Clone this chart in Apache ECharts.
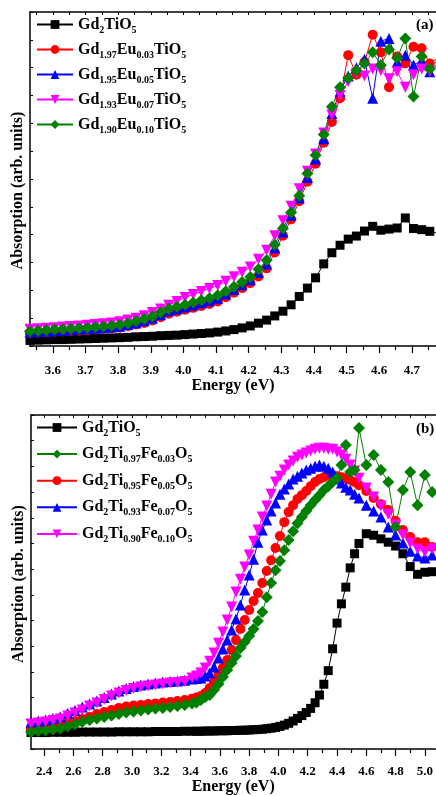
<!DOCTYPE html>
<html>
<head>
<meta charset="utf-8">
<script src="https://cdn.jsdelivr.net/npm/echarts@6/dist/echarts.min.js"></script>
<style>
html,body{margin:0;padding:0;background:#fff;}
#chart{width:436px;height:796px;}
</style>
</head>
<body>
<div id="chart"></div>
<script>
// ---------- Panel (a): Eu-doped Gd2TiO5 ----------
const energyA = [3.530,3.555,3.580,3.605,3.630,3.655,3.680,3.705,3.730,3.755,
  3.780,3.805,3.830,3.855,3.880,3.905,3.930,3.955,3.980,4.005,
  4.030,4.055,4.080,4.105,4.130,4.155,4.180,4.205,4.230,4.255,
  4.280,4.305,4.330,4.355,4.380,4.405,4.430,4.455,4.480,4.505,
  4.530,4.555,4.580,4.605,4.630,4.655,4.680,4.705,4.730,4.755,
  4.780];
const gd2tio5A = [0.20,0.21,0.22,0.23,0.23,0.24,0.25,0.26,0.27,0.28,
  0.29,0.30,0.31,0.33,0.34,0.35,0.37,0.38,0.39,0.41,
  0.43,0.45,0.47,0.50,0.54,0.59,0.65,0.72,0.82,0.93,
  1.08,1.25,1.48,1.78,2.08,2.45,2.95,3.35,3.62,3.84,
  3.95,4.13,4.30,4.16,4.20,4.24,4.60,4.22,4.18,4.12,
  4.05];
const eu003 = [0.46,0.48,0.49,0.51,0.52,0.54,0.55,0.57,0.59,0.61,
  0.63,0.66,0.71,0.77,0.83,0.92,1.03,1.16,1.23,1.30,
  1.37,1.44,1.51,1.60,1.75,1.91,2.08,2.26,2.50,2.79,
  3.36,3.96,4.55,5.20,5.90,6.55,7.30,8.05,8.90,10.45,
  9.75,10.20,11.18,10.55,9.30,10.40,10.15,10.75,10.70,10.15,
  10.35];
const eu005 = [0.50,0.52,0.53,0.55,0.56,0.58,0.60,0.62,0.64,0.66,
  0.68,0.71,0.77,0.83,0.91,1.00,1.12,1.26,1.33,1.40,
  1.47,1.55,1.63,1.72,1.87,2.03,2.20,2.38,2.64,2.95,
  3.52,4.10,4.70,5.32,6.05,6.72,7.45,8.35,9.15,9.70,
  10.00,10.30,8.90,10.95,11.05,10.20,10.45,10.10,10.25,9.85,
  10.15];
const eu007 = [0.60,0.62,0.64,0.66,0.68,0.70,0.72,0.75,0.77,0.80,
  0.83,0.87,0.93,1.00,1.09,1.20,1.33,1.46,1.60,1.74,
  1.85,1.96,2.07,2.17,2.33,2.49,2.65,2.84,3.12,3.44,
  3.96,4.50,5.02,5.65,6.28,6.90,7.65,8.30,9.00,9.50,
  9.80,9.70,9.95,9.90,9.60,9.85,9.30,9.75,9.95,9.85,
  10.05];
const eu010 = [0.53,0.55,0.57,0.59,0.60,0.62,0.64,0.66,0.68,0.70,
  0.73,0.76,0.82,0.89,0.97,1.06,1.20,1.34,1.41,1.48,
  1.56,1.64,1.72,1.82,1.97,2.13,2.30,2.48,2.76,3.08,
  3.64,4.22,4.80,5.40,6.20,6.85,7.60,8.60,9.30,9.62,
  9.90,10.15,10.55,10.10,10.65,10.35,11.05,8.96,10.40,9.95,
  10.30];
const ticksA = [3.6,3.7,3.8,3.9,4.0,4.1,4.2,4.3,4.4,4.5,4.6,4.7];
const minorTicksA = [3.55,3.65,3.75,3.85,3.95,4.05,4.15,4.25,4.35,4.45,4.55,4.65,4.75];

// ---------- Panel (b): Fe-doped Gd2TiO5 ----------
const energyB = [2.31,2.36,2.41,2.46,2.51,2.56,2.61,2.66,2.71,2.76,
  2.81,2.86,2.91,2.96,3.01,3.06,3.11,3.16,3.21,3.26,
  3.31,3.36,3.41,
  3.44,3.47,3.50,3.53,3.56,3.59,3.62,
  3.65,3.68,3.71,3.74,3.77,3.80,3.83,3.86,3.89,3.92,
  3.95,3.98,4.01,4.04,4.07,4.10,4.13,4.16,4.19,4.22,
  4.25,4.28,4.31,4.34,4.37,4.40,4.43,4.46,4.49,4.52,
  4.55,
  4.60,4.65,4.70,4.75,4.80,4.85,4.90,4.95,5.00,5.05];
const gd2tio5B = [0.64,0.64,0.64,0.65,0.65,0.65,0.65,0.66,0.66,0.66,
  0.66,0.66,0.67,0.67,0.67,0.67,0.67,0.68,0.68,0.68,
  0.68,0.69,0.69,
  0.69,0.69,0.70,0.70,0.70,0.71,0.71,
  0.71,0.72,0.72,0.73,0.73,0.74,0.75,0.76,0.77,0.79,
  0.81,0.84,0.88,0.93,1.00,1.09,1.19,1.30,1.42,1.58,
  1.80,2.10,2.52,3.05,3.90,4.90,5.65,6.30,7.05,7.60,
  8.00,
  8.38,8.32,8.18,8.05,7.90,7.60,7.10,6.80,6.88,6.90];
const fe003 = [0.66,0.70,0.72,0.76,0.80,0.88,0.95,1.05,1.13,1.19,
  1.25,1.30,1.36,1.42,1.46,1.50,1.54,1.58,1.60,1.63,
  1.67,1.71,1.77,
  1.81,1.91,2.02,2.10,2.30,2.53,2.80,
  3.07,3.35,3.62,3.93,4.16,4.40,4.67,4.98,5.33,5.91,
  6.46,6.96,7.32,7.74,8.13,8.48,8.79,9.03,9.26,9.49,
  9.69,9.88,10.08,10.23,10.39,10.54,11.05,11.83,10.78,10.86,
  12.49,
  11.05,11.44,10.86,10.39,8.64,10.08,10.78,9.49,10.66,10.00];
const fe005 = [0.78,0.82,0.86,0.89,0.93,1.01,1.09,1.17,1.25,1.36,
  1.44,1.52,1.60,1.65,1.69,1.71,1.75,1.77,1.81,1.83,
  1.87,1.91,1.96,
  2.00,2.06,2.18,2.37,2.61,2.88,3.15,
  3.46,3.85,4.24,4.67,5.02,5.41,5.76,6.07,6.46,6.93,
  7.35,7.82,8.29,8.83,9.22,9.49,9.73,9.88,10.04,10.23,
  10.39,10.51,10.58,10.66,10.66,10.62,10.58,10.54,10.47,10.39,
  10.27,
  10.04,9.77,9.53,9.30,8.87,8.52,8.25,8.05,8.05,7.86];
const fe007 = [1.05,1.09,1.13,1.19,1.26,1.38,1.50,1.63,1.75,1.87,
  2.00,2.14,2.26,2.35,2.43,2.49,2.53,2.57,2.61,2.63,
  2.65,2.68,2.72,
  2.74,2.76,2.84,2.96,3.19,3.54,3.89,
  4.24,4.63,5.06,5.60,6.19,6.77,7.39,8.05,8.52,8.91,
  9.26,9.57,9.92,10.12,10.31,10.51,10.62,10.74,10.86,10.93,
  11.01,11.05,11.01,10.93,10.78,10.51,10.35,10.19,10.08,9.92,
  9.77,
  9.49,9.26,9.03,8.64,8.33,8.02,7.70,7.51,7.43,7.55];
const fe010 = [0.97,1.01,1.05,1.11,1.17,1.28,1.40,1.52,1.67,1.79,
  1.93,2.06,2.18,2.28,2.35,2.41,2.45,2.49,2.53,2.57,
  2.59,2.63,2.76,
  2.84,2.96,3.15,3.42,3.74,4.12,4.55,
  5.02,5.53,6.11,6.61,7.08,7.55,8.09,8.52,9.03,9.46,
  9.92,10.39,10.62,10.86,11.05,11.21,11.36,11.44,11.52,11.60,
  11.67,11.71,11.71,11.67,11.67,11.56,11.44,11.28,11.05,10.82,
  10.54,
  10.16,9.81,9.46,9.14,8.72,8.33,8.02,7.78,7.67,7.78];
const ticksB = [2.4,2.6,2.8,3.0,3.2,3.4,3.6,3.8,4.0,4.2,4.4,4.6,4.8,5.0];
const minorTicksB = [2.5,2.7,2.9,3.1,3.3,3.5,3.7,3.9,4.1,4.3,4.5,4.7,4.9];
const topTicksB = [2.4,2.5,2.6,2.7,2.8,2.9,3.0,3.1,3.2,3.3,3.4,3.5,3.6,3.7,3.8,3.9,4.0,4.1,4.2,4.3,4.4,4.5,4.6,4.7,4.8,4.9,5.0];

const namesA = ['Gd2TiO5','Gd1.97Eu0.03TiO5','Gd1.95Eu0.05TiO5','Gd1.93Eu0.07TiO5','Gd1.90Eu0.10TiO5'];
const namesB = ['Gd2TiO5','Gd2Ti0.97Fe0.03O5','Gd2Ti0.95Fe0.05O5','Gd2Ti0.93Fe0.07O5','Gd2Ti0.90Fe0.10O5'];

const FONT = '"Liberation Serif","Times New Roman",serif';
const BLACK = '#000000', RED = '#ff0000', BLUE = '#0000ff', MAGENTA = '#ff00ff', GREEN = '#008000';

function toChem(name) {
  let out = '';
  name.replace(/([A-Z][a-z]?)([\d.]*)/g, function (m, el, num) {
    out += '{m|' + el + '}';
    if (num) out += '{s|' + num + '}';
    return m;
  });
  return out;
}
const richStyle = {
  m: {fontSize: 16, fontWeight: 'bold', fontFamily: FONT, color: '#000', lineHeight: 16},
  s: {fontSize: 10, fontWeight: 'bold', fontFamily: FONT, color: '#000', lineHeight: 16, padding: [11, 0, 0, 0]}
};

function line(name, xs, ys, color, symbol, size, rotate, xi, yi) {
  return {
    name: name, type: 'line', xAxisIndex: xi, yAxisIndex: yi,
    data: xs.map(function (x, i) { return [x, ys[i]]; }),
    symbol: symbol, symbolSize: size, symbolRotate: rotate,
    showSymbol: true, showAllSymbol: true,
    lineStyle: {width: 1, color: color},
    itemStyle: {color: color},
    emphasis: {disabled: true},
    animation: false
  };
}

const axisLineStyle = {color: '#000', width: 1.5};
function xAxes(grid, min, max, majors, minors, tops, labelMargin, nameGap) {
  return [
    {gridIndex: grid, type: 'value', min: min, max: max, position: 'bottom',
     axisLine: {show: true, onZero: false, lineStyle: axisLineStyle},
     axisTick: {show: true, inside: false, length: 7, customValues: majors, lineStyle: {color: '#000', width: 1.2}},
     axisLabel: {show: true, customValues: majors, margin: labelMargin,
       formatter: function (v) { return Number(v).toFixed(1); },
       color: '#000', fontSize: 13, fontWeight: 'bold', fontFamily: FONT},
     splitLine: {show: false},
     name: 'Energy (eV)', nameLocation: 'middle', nameGap: nameGap,
     nameTextStyle: {color: '#000', fontSize: 16, fontWeight: 'bold', fontFamily: FONT}},
    {gridIndex: grid, type: 'value', min: min, max: max, position: 'bottom',
     axisLine: {show: false},
     axisTick: {show: true, inside: false, length: 4, customValues: minors, lineStyle: {color: '#000', width: 1.2}},
     axisLabel: {show: false}, splitLine: {show: false}},
    {gridIndex: grid, type: 'value', min: min, max: max, position: 'top',
     axisLine: {show: true, onZero: false, lineStyle: axisLineStyle},
     axisTick: {show: true, inside: true, length: 3, customValues: tops, lineStyle: {color: '#000', width: 1}},
     axisLabel: {show: false}, splitLine: {show: false}}
  ];
}
function yAxis(grid, max, shift) {
  return {gridIndex: grid, type: 'value', min: 0, max: max, interval: 1, position: 'left',
    axisLine: {show: true, onZero: false, lineStyle: axisLineStyle},
    axisTick: {show: true, inside: true, length: 3, lineStyle: {color: '#000', width: 1}},
    axisLabel: {show: false}, splitLine: {show: false},
    name: 'Absorption (arb. units)', nameLocation: 'middle', nameGap: 4,
    nameTextStyle: {color: '#000', fontSize: 16, fontWeight: 'bold', fontFamily: FONT, padding: [0, shift, 0, 0]}};
}

const chart = echarts.init(document.getElementById('chart'), null, {renderer: 'canvas'});
const topTicksA = ticksA.concat(minorTicksA).sort(function (a, b) { return a - b; });
chart.setOption({
  animation: false,
  backgroundColor: '#fff',
  grid: [
    {left: 30, top: 12, width: 407, height: 334},
    {left: 31, top: 415, width: 406, height: 334}
  ],
  xAxis: xAxes(0, 3.53, 4.774, ticksA, minorTicksA, topTicksA, 18, 28)
    .concat(xAxes(1, 2.31, 5.072, ticksB, minorTicksB, topTicksB, 16, 30)),
  yAxis: [yAxis(0, 12, 23), yAxis(1, 13, 4)],
  legend: [
    {orient: 'vertical', left: 36, top: 14, padding: 0, itemWidth: 36, itemHeight: 11, itemGap: 4,
     selectedMode: false, data: namesA, formatter: toChem, textStyle: {rich: richStyle}},
    {orient: 'vertical', left: 36, top: 417, padding: 0, itemWidth: 40, itemHeight: 11, itemGap: 5.6,
     selectedMode: false, data: namesB, formatter: toChem, textStyle: {rich: richStyle}}
  ],
  graphic: [
    {type: 'text', left: 416, top: 18, style: {text: '(a)', font: 'bold 15px "Liberation Serif"', fill: '#000'}},
    {type: 'text', left: 416, top: 422, style: {text: '(b)', font: 'bold 15px "Liberation Serif"', fill: '#000'}}
  ],
  series: [
    line(namesA[0], energyA, gd2tio5A, BLACK, 'rect', 9, 0, 0, 0),
    line(namesA[1], energyA, eu003, RED, 'circle', 10, 0, 0, 0),
    line(namesA[2], energyA, eu005, BLUE, 'triangle', 11, 0, 0, 0),
    line(namesA[3], energyA, eu007, MAGENTA, 'triangle', 11, 180, 0, 0),
    line(namesA[4], energyA, eu010, GREEN, 'diamond', 12, 0, 0, 0),
    line(namesB[0], energyB, gd2tio5B, BLACK, 'rect', 9, 0, 3, 1),
    line(namesB[2], energyB, fe005, RED, 'circle', 10, 0, 3, 1),
    line(namesB[3], energyB, fe007, BLUE, 'triangle', 11, 0, 3, 1),
    line(namesB[4], energyB, fe010, MAGENTA, 'triangle', 11, 180, 3, 1),
    line(namesB[1], energyB, fe003, GREEN, 'diamond', 12, 0, 3, 1)
  ]
});
</script>
</body>
</html>
